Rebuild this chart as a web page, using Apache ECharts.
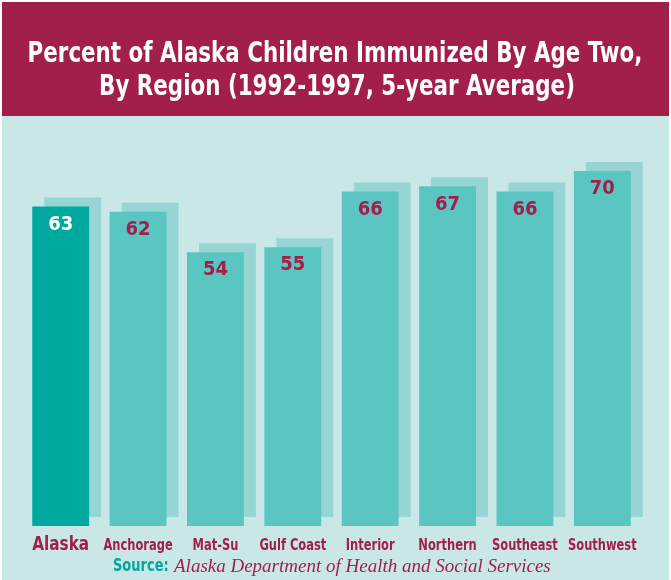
<!DOCTYPE html>
<html>
<head>
<meta charset="utf-8">
<script src="https://cdn.jsdelivr.net/npm/echarts@6/dist/echarts.min.js"></script>
<style>
html,body{margin:0;padding:0;background:#fff;}
#chart{width:671px;height:580px;}
</style>
</head>
<body>
<div id="chart"></div>
<script>
const categories = ['Alaska','Anchorage','Mat-Su','Gulf Coast','Interior','Northern','Southeast','Southwest'];
const values = [63, 62, 54, 55, 66, 67, 66, 70];
const titleLines = ['Percent of Alaska Children Immunized By Age Two,', 'By Region (1992-1997, 5-year Average)'];
const sourceLabel = 'Source:';
const sourceText = 'Alaska Department of Health and Social Services';

const CRIMSON = '#A31F4B';
const PANEL = '#C9E7E7';
const BAR = '#5BC5C1';
const BAR_HL = '#00A99F';
const SHADOW = '#97D5D4';
const COND = "'DejaVu Sans Condensed','DejaVu Sans',sans-serif";
const BAND = 0.735;
const SQ = 0.85;

const chart = echarts.init(document.getElementById('chart'));
chart.setOption({
  animation: false,
  backgroundColor: '#fff',
  graphic: [
    {type:'rect', z:-10, shape:{x:2, y:2, width:667, height:114}, style:{fill:CRIMSON}},
    {type:'rect', z:-10, shape:{x:2, y:116, width:667, height:464}, style:{fill:PANEL}},
    {type:'text', x:335, y:55, scaleX:SQ, style:{text:titleLines[0], align:'center', verticalAlign:'middle',
      fontFamily:COND, fontWeight:'bold', fontSize:28, fill:'#fff'}},
    {type:'text', x:337, y:88, scaleX:SQ, style:{text:titleLines[1], align:'center', verticalAlign:'middle',
      fontFamily:COND, fontWeight:'bold', fontSize:28, fill:'#fff'}},
    {type:'text', x:113, y:567, scaleX:SQ, style:{text:sourceLabel, align:'left', verticalAlign:'middle',
      fontFamily:COND, fontWeight:'bold', fontSize:17, fill:'#00A99F'}},
    {type:'text', x:174, y:567, style:{text:sourceText, align:'left', verticalAlign:'middle',
      fontFamily:"'Liberation Serif','DejaVu Serif',serif", fontStyle:'italic', fontSize:19, fill:CRIMSON}}
  ],
  grid: {left:22, right:30, top:19, bottom:54},
  xAxis: {
    type:'category',
    data: categories,
    axisLine:{show:false}, axisTick:{show:false}, splitLine:{show:false},
    axisLabel:{show:false}
  },
  yAxis: {type:'value', min:0, max:100, show:false, splitLine:{show:false}},
  series: [
    {
      type:'custom',
      z:1,
      data: values.map((v,i) => [i, v]),
      renderItem: (params, api) => {
        const top = api.coord([api.value(0), api.value(1)]);
        const base = api.coord([api.value(0), 0]);
        const w = api.size([1, 0])[0] * BAND;
        return {type:'rect', shape:{x: top[0] - w/2 + 12, y: top[1] - 9, width: w, height: base[1] - top[1]}, style:{fill: SHADOW}};
      }
    },
    {
      type:'bar',
      z:2,
      barWidth: (BAND*100) + '%',
      data: values.map((v,i) => ({value:v, itemStyle:{color: i === 0 ? BAR_HL : BAR},
        label:{color: i === 0 ? '#fff' : CRIMSON}})),
      label:{show:true, position:'insideTop', distance:8, fontFamily:COND, fontWeight:'bold', fontSize:20}
    },
    {
      type:'custom',
      z:3,
      silent:true,
      data: categories.map((c,i) => [i, 0]),
      renderItem: (params, api) => {
        const idx = api.value(0);
        const p = api.coord([idx, 0]);
        const first = idx === 0;
        return {type:'text', x: p[0], y: p[1] + (first ? 19 : 20), scaleX: SQ,
          style:{text: categories[idx], align:'center', verticalAlign:'middle',
            fontFamily:COND, fontWeight:'bold', fontSize: first ? 20 : 15, fill: CRIMSON}};
      }
    }
  ]
});
</script>
</body>
</html>
